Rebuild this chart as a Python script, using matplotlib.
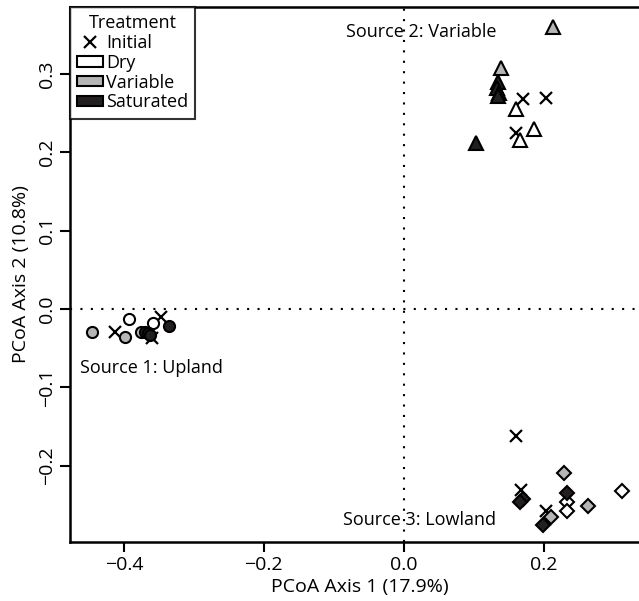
import matplotlib.pyplot as plt
from matplotlib.lines import Line2D
from matplotlib.patches import Patch

plt.rcParams['font.family'] = ['Open Sans', 'DejaVu Sans']

# PCoA scores per source (marker shape) and treatment (fill)
treatments = ["Initial", "Dry", "Variable", "Saturated"]
fills = {"Initial": None, "Dry": "white", "Variable": "#b5b5b5", "Saturated": "#231f20"}

# Source 1: Upland (circles)
upland_x = {
    "Initial": [-0.413, -0.360, -0.347],
    "Dry": [-0.393, -0.358],
    "Variable": [-0.446, -0.399, -0.376],
    "Saturated": [-0.370, -0.366, -0.363, -0.335],
}
upland_y = {
    "Initial": [-0.029, -0.037, -0.010],
    "Dry": [-0.013, -0.018],
    "Variable": [-0.030, -0.036, -0.029],
    "Saturated": [-0.029, -0.031, -0.033, -0.022],
}

# Source 2: Variable (triangles)
variable_x = {
    "Initial": [0.170, 0.203, 0.161],
    "Dry": [0.160, 0.166, 0.186],
    "Variable": [0.213, 0.139],
    "Saturated": [0.135, 0.134, 0.136, 0.135, 0.104],
}
variable_y = {
    "Initial": [0.268, 0.270, 0.225],
    "Dry": [0.255, 0.216, 0.230],
    "Variable": [0.360, 0.308],
    "Saturated": [0.290, 0.282, 0.276, 0.272, 0.212],
}

# Source 3: Lowland (diamonds)
lowland_x = {
    "Initial": [0.160, 0.167, 0.204],
    "Dry": [0.312, 0.233, 0.234],
    "Variable": [0.229, 0.263, 0.210],
    "Saturated": [0.170, 0.233, 0.199, 0.166],
}
lowland_y = {
    "Initial": [-0.162, -0.231, -0.258],
    "Dry": [-0.232, -0.246, -0.258],
    "Variable": [-0.210, -0.252, -0.266],
    "Saturated": [-0.243, -0.235, -0.276, -0.246],
}

groups = [
    (upland_x, upland_y, "o", 8),
    (variable_x, variable_y, "^", 9.5),
    (lowland_x, lowland_y, "D", 7.5),
]

fig = plt.figure(figsize=(6.39, 6.01), dpi=100)
ax = fig.add_axes([70 / 639, 59.3 / 601, 580 / 639, 534.7 / 601])

ax.axvline(0, color="black", lw=1.5, linestyle=(0, (1, 4)), zorder=1)
ax.axhline(0, color="black", lw=1.5, linestyle=(0, (1, 4)), zorder=1)

for xs, ys, shape, size in groups:
    for t in treatments:
        if t == "Initial":
            ax.plot(xs[t], ys[t], linestyle="none", marker="x", color="black",
                    markersize=8, mew=1.6, zorder=3)
        else:
            ax.plot(xs[t], ys[t], linestyle="none", marker=shape, markersize=size,
                    markerfacecolor=fills[t], markeredgecolor="black", mew=1.5, zorder=3)

ax.text(-0.462, -0.075, "Source 1: Upland", fontsize=13, ha="left", va="center")
ax.text(-0.082, 0.354, "Source 2: Variable", fontsize=13, ha="left", va="center")
ax.text(-0.087, -0.269, "Source 3: Lowland", fontsize=13, ha="left", va="center")

ax.set_xlim(-0.477, 0.352)
ax.set_ylim(-0.2972, 0.3857)
ax.set_xticks([-0.4, -0.2, 0.0, 0.2])
ax.set_yticks([-0.2, -0.1, 0.0, 0.1, 0.2, 0.3])
ax.set_xlabel("PCoA Axis 1 (17.9%)", fontsize=14, labelpad=3)
ax.set_ylabel("PCoA Axis 2 (10.8%)", fontsize=14, labelpad=6)

ax.tick_params(direction="out", length=7, width=1.5, labelsize=14)
ax.tick_params(axis="y", labelrotation=90, pad=3)
for label in ax.get_yticklabels():
    label.set_va("center")
for spine in ax.spines.values():
    spine.set_linewidth(1.8)

handles = [
    Line2D([], [], linestyle="none", marker="x", color="black", markersize=8, mew=1.6),
    Patch(facecolor="white", edgecolor="black", lw=1.5),
    Patch(facecolor="#b5b5b5", edgecolor="black", lw=1.5),
    Patch(facecolor="#231f20", edgecolor="black", lw=1.5),
]
leg = ax.legend(handles, treatments, title="Treatment", loc="upper left",
                fontsize=13, title_fontsize=13, frameon=True, fancybox=False,
                borderaxespad=0, borderpad=0.4, handlelength=1.4, handleheight=0.5,
                handletextpad=0.2, labelspacing=0.1)
leg.get_frame().set_edgecolor("black")
leg.get_frame().set_linewidth(1.5)

fig.savefig("out.png", dpi=100)
